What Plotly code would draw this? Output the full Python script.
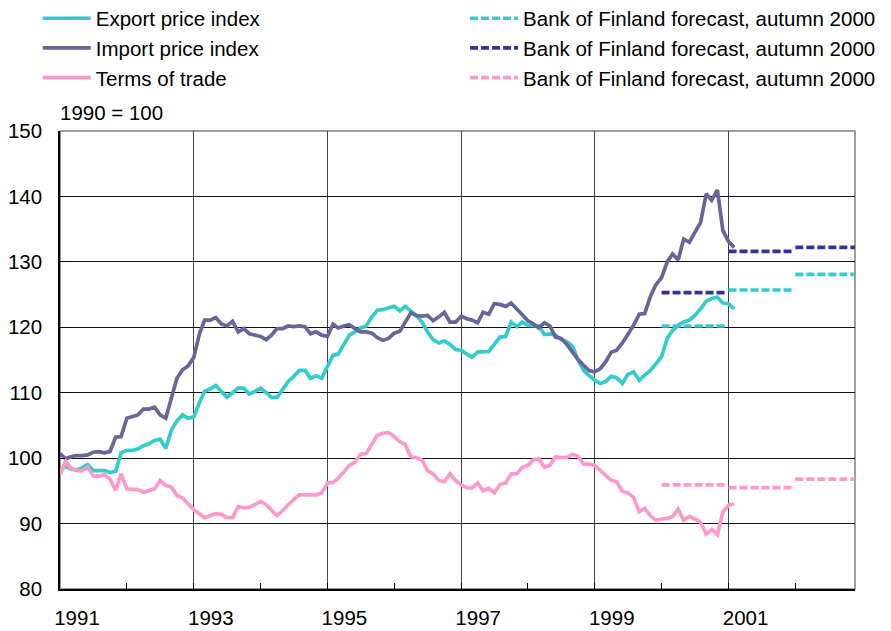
import pandas as pd
import plotly.graph_objects as go

# Monthly indices, 1990 = 100, from January 1991
START_MONTH = "1991-01-01"

export_index = [
    98.1, 98.8, 98.3, 98.2, 98.5, 99.0, 98.1, 98.1, 98.1, 97.8, 98.0, 100.8,
    101.2, 101.2, 101.4, 101.9, 102.2, 102.7, 102.9, 101.5, 104.3, 105.7, 106.6, 106.1,
    106.3, 108.5, 110.2, 110.6, 111.1, 110.2, 109.3, 110.0, 110.7, 110.7, 109.8, 110.2,
    110.7, 110.0, 109.3, 109.3, 110.5, 111.7, 112.5, 113.4, 113.4, 112.2, 112.6, 112.2,
    114.0, 115.7, 115.9, 117.3, 118.8, 119.3, 119.9, 120.2, 121.6, 122.6, 122.7, 123.0,
    123.2, 122.5, 123.2, 122.5, 121.8, 120.8, 119.3, 118.1, 117.6, 117.9, 117.4, 116.6,
    116.5, 115.9, 115.4, 116.2, 116.2, 116.3, 117.4, 118.5, 118.6, 120.8, 120.1, 120.8,
    120.3, 120.3, 120.2, 118.9, 119.0, 118.8, 118.1, 117.8, 117.1, 115.0, 113.4, 112.6,
    111.9, 111.4, 111.7, 112.5, 112.3, 111.4, 112.8, 113.2, 111.9, 112.7, 113.4, 114.4,
    115.5, 118.3, 119.5, 120.3, 120.8, 121.1, 121.8, 122.8, 124.0, 124.4, 124.6, 123.7,
    123.6, 122.8,
]

import_index = [
    100.7, 99.9, 100.2, 100.4, 100.4, 100.5, 100.9, 101.0, 100.8, 101.0, 103.2, 103.3,
    106.1, 106.3, 106.6, 107.5, 107.5, 107.8, 106.6, 106.1, 109.4, 112.2, 113.5, 114.1,
    115.4, 119.0, 121.1, 121.1, 121.5, 120.5, 120.2, 120.9, 119.3, 119.8, 119.0, 118.8,
    118.6, 118.1, 118.8, 119.8, 119.8, 120.2, 120.1, 120.2, 120.1, 119.0, 119.3, 118.8,
    118.6, 120.5, 119.9, 120.2, 120.4, 119.8, 119.3, 119.3, 119.1, 118.4, 118.0, 118.3,
    119.1, 119.4, 120.7, 122.2, 121.8, 121.7, 121.8, 121.0, 121.6, 122.3, 120.8, 120.8,
    121.7, 121.3, 121.1, 120.7, 122.3, 122.0, 123.6, 123.5, 123.2, 123.7, 122.8, 122.0,
    121.0, 120.5, 119.9, 120.7, 120.2, 118.5, 118.3, 117.4, 116.2, 115.1, 114.2, 113.4,
    113.2, 113.7, 114.7, 116.2, 116.5, 117.6, 118.9, 120.3, 122.0, 122.1, 124.7, 126.5,
    127.6, 130.0, 131.2, 130.3, 133.5, 133.0, 134.5, 136.0, 140.4, 139.4, 141.0, 134.8,
    133.1, 132.2,
]

terms_of_trade = [
    97.5, 99.5, 98.5, 98.1, 98.1, 98.6, 97.3, 97.2, 97.5, 96.8, 95.1, 97.6,
    95.3, 95.2, 95.2, 94.8, 95.1, 95.3, 96.6, 95.8, 95.6, 94.3, 93.9, 93.0,
    92.1, 91.5, 90.9, 91.2, 91.5, 91.4, 90.9, 90.9, 92.6, 92.4, 92.5, 92.9,
    93.4, 92.9, 92.0, 91.2, 92.0, 92.9, 93.7, 94.4, 94.4, 94.4, 94.4, 94.7,
    96.2, 96.3, 96.9, 97.9, 98.9, 99.4, 100.6, 100.7, 102.2, 103.5, 103.8, 103.9,
    103.3, 102.5, 102.1, 100.2, 100.1, 99.7, 98.1, 97.6, 96.6, 96.4, 97.6, 96.6,
    95.9, 95.5, 95.4, 96.2, 95.0, 95.4, 94.7, 96.0, 96.2, 97.6, 97.6, 98.6,
    98.9, 99.8, 99.9, 98.6, 98.9, 100.2, 100.1, 100.1, 100.6, 100.3, 99.1, 99.1,
    98.9, 98.1, 97.4, 96.6, 96.4, 94.9, 94.7, 94.0, 91.8, 92.3, 91.2, 90.5,
    90.7, 90.8, 91.1, 92.2, 90.5, 91.1, 90.7, 90.2, 88.4, 89.1, 88.3, 91.8,
    92.8, 93.0,
]

# Bank of Finland forecast, autumn 2000: annual levels
forecast_years = [2000, 2001, 2002]
export_forecast = [120.2, 125.7, 128.1]
import_forecast = [125.3, 131.6, 132.2]
tot_forecast = [95.9, 95.5, 96.8]

tick_years = [1991, 1993, 1995, 1997, 1999, 2001]
tick_labels = [str(y) for y in tick_years]

FORECAST_NAME = "Bank of Finland forecast, autumn 2000"
CYAN = "#33CCCC"
SLATE = "#666699"
PINK = "#FF99CC"
NAVY = "#333399"
FONT = "Arial, 'Liberation Sans', sans-serif"

months = pd.date_range(START_MONTH, periods=len(export_index), freq="MS")


def forecast_xy(levels):
    """One flat segment per forecast year, broken between years."""
    xs, ys = [], []
    for yr, v in zip(forecast_years, levels):
        xs += [f"{yr}-01-01", f"{yr}-12-15", None]
        ys += [v, v, None]
    return xs, ys


fig = go.Figure()

for name, values, color in [
    ("Export price index", export_index, CYAN),
    ("Import price index", import_index, SLATE),
    ("Terms of trade", terms_of_trade, PINK),
]:
    fig.add_trace(go.Scatter(
        x=months, y=values, name=name, mode="lines",
        line=dict(color=color, width=3.7), legend="legend",
    ))

for levels, color in [
    (export_forecast, CYAN),
    (import_forecast, NAVY),
    (tot_forecast, PINK),
]:
    fx, fy = forecast_xy(levels)
    fig.add_trace(go.Scatter(
        x=fx, y=fy, name=FORECAST_NAME, mode="lines", connectgaps=False,
        line=dict(color=color, width=3.7, dash="8px,3px"), legend="legend2",
    ))

legend_style = dict(
    xanchor="left", yanchor="top", bgcolor="rgba(0,0,0,0)",
    borderwidth=0, itemwidth=48, tracegroupgap=0,
    font=dict(family=FONT, size=20.5, color="black"),
)

fig.update_layout(
    width=891, height=631,
    margin=dict(l=60, r=36, t=131, b=42, autoexpand=False),
    paper_bgcolor="white", plot_bgcolor="white",
    font=dict(family=FONT, size=20.5, color="black"),
    legend=dict(x=-0.028, y=1.2895, **legend_style),
    legend2=dict(x=0.5095, y=1.2895, **legend_style),
    xaxis=dict(
        type="date", range=["1991-01-01", "2002-11-23"],
        tickvals=[f"{y}-01-01" for y in tick_years], ticktext=tick_labels,
        ticks="inside", ticklen=6, tickcolor="black", tickwidth=1,
        ticklabelshift=17, ticklabelstandoff=10,
        showgrid=True, gridcolor="#444444", gridwidth=1,
        minor=dict(dtick="M12", tick0="1991-01-01", ticks="inside",
                   ticklen=6, tickcolor="black", showgrid=False),
        showline=True, linecolor="black", linewidth=1.5, zeroline=False,
    ),
    yaxis=dict(
        range=[80, 150], tick0=80, dtick=10,
        ticks="inside", ticklen=5, tickcolor="black",
        ticklabelstandoff=12,
        showgrid=True, gridcolor="#111111", gridwidth=1,
        showline=True, linecolor="black", linewidth=1.5, zeroline=False,
    ),
    shapes=[dict(type="rect", xref="x domain", yref="y domain",
                 x0=0, x1=1, y0=0, y1=1, layer="below",
                 line=dict(color="#808080", width=1.5))],
    annotations=[dict(text="1990 = 100", xref="paper", yref="paper",
                      x=0, y=1, xanchor="left", yanchor="bottom",
                      xshift=-2, yshift=5, showarrow=False,
                      font=dict(family=FONT, size=20.5, color="black"))],
)

fig.write_html("out.html")
